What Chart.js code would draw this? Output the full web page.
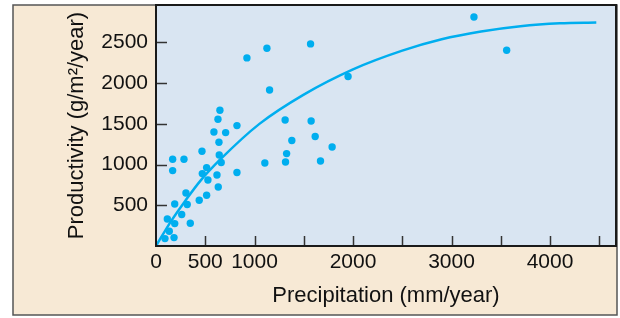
<!DOCTYPE html>
<html>
<head>
<meta charset="utf-8">
<script src="https://cdn.jsdelivr.net/npm/chart.js@4.4.0/dist/chart.umd.min.js"></script>
<style>
  body { margin: 0; background: #ffffff; }
  #chart { display: block; }
</style>
</head>
<body>
<canvas id="chart" width="620" height="318"></canvas>
<script>
// sites: precipitation (mm/year) vs productivity (g/m2/year)
const precip = [649, 629, 588, 707, 822, 639, 467, 169, 284, 169, 642, 662, 514, 470, 527,
    619, 822, 632, 304, 514, 439, 190, 317, 261, 115, 190, 348, 135, 91, 183,
    923, 1126, 1569, 1153, 1950, 1311, 1575, 1379, 1616, 1788, 1326, 1315, 1105, 1670,
    3228, 3560];
const productivity = [1667, 1557, 1400, 1393, 1479, 1274, 1163, 1065, 1065, 926, 1118, 1025, 963, 889, 811,
    872, 902, 725, 651, 623, 561, 516, 509, 386, 332, 275, 279, 181, 91, 103,
    2310, 2429, 2482, 1916, 2081, 1548, 1536, 1295, 1344, 1216, 1135, 1032, 1020, 1044,
    2813, 2404];

// fitted curve
const curveX = [0, 150, 300, 450, 650, 1050, 1500, 2000, 2500, 2900, 3300, 3700, 4100, 4470];
const curveY = [0, 300, 560, 800, 1060, 1500, 1860, 2170, 2400, 2540, 2635, 2700, 2735, 2745];

const xTicks = [0, 500, 1000, 1500, 2000, 2500, 3000, 3500, 4000, 4500];
const yTicks = [0, 500, 1000, 1500, 2000, 2500];
const xTickLabels = ['0', '500', '1000', '', '2000', '', '3000', '', '4000', ''];
const yTickLabels = ['', '500', '1000', '1500', '2000', '2500'];

const blue = '#00aeef';
const fontFamily = '"Liberation Sans", Arial, Helvetica, sans-serif';

const framePlugin = {
    id: 'frame',
    beforeDraw(chart) {
        const ctx = chart.ctx;
        const a = chart.chartArea;
        ctx.save();
        ctx.fillStyle = '#f7e9d5';
        ctx.fillRect(13, 5, 604, 310);
        ctx.fillStyle = '#d9e5f2';
        ctx.fillRect(a.left, a.top, a.right - a.left, a.bottom - a.top);
        ctx.restore();
    },
    afterDraw(chart) {
        const ctx = chart.ctx;
        const a = chart.chartArea;
        const xs = chart.scales.x;
        const ys = chart.scales.y;
        ctx.save();
        ctx.strokeStyle = '#333';
        ctx.lineWidth = 1.5;
        // inward tick marks
        xs.ticks.forEach(t => {
            if (t.value <= 0) return;
            const px = Math.round(xs.getPixelForValue(t.value)) + 0.5;
            ctx.beginPath();
            ctx.moveTo(px, a.bottom);
            ctx.lineTo(px, a.bottom - 10);
            ctx.stroke();
        });
        ys.ticks.forEach(t => {
            if (t.value <= 0) return;
            const py = Math.round(ys.getPixelForValue(t.value)) + 0.5;
            ctx.beginPath();
            ctx.moveTo(a.left, py);
            ctx.lineTo(a.left + 11, py);
            ctx.stroke();
        });
        // outer frame
        ctx.strokeStyle = '#555';
        ctx.lineWidth = 1.5;
        ctx.strokeRect(13, 5, 604, 310);
        // plot border
        ctx.strokeStyle = '#1a1a1a';
        ctx.lineWidth = 2;
        ctx.strokeRect(a.left, a.top, a.right - a.left, a.bottom - a.top);
        ctx.restore();
    }
};

new Chart(document.getElementById('chart'), {
    type: 'scatter',
    data: {
        datasets: [
            {
                type: 'line',
                data: curveX.map((x, i) => ({ x: x, y: curveY[i] })),
                borderColor: blue,
                borderWidth: 2.5,
                pointRadius: 0,
                cubicInterpolationMode: 'monotone',
                fill: false
            },
            {
                data: precip.map((x, i) => ({ x: x, y: productivity[i] })),
                backgroundColor: blue,
                borderWidth: 0,
                pointRadius: 3.7
            }
        ]
    },
    options: {
        responsive: false,
        animation: false,
        layout: {
            padding: { left: 13, right: 4, top: 5, bottom: 3 }
        },
        plugins: {
            legend: { display: false },
            tooltip: { enabled: false }
        },
        scales: {
            x: {
                type: 'linear',
                min: 0,
                max: 4670,
                afterBuildTicks(scale) { scale.ticks = xTicks.map(v => ({ value: v })); },
                afterFit(scale) {
                    scale.height = 69;
                    scale.paddingLeft = 0;
                    scale.paddingRight = 0;
                },
                grid: { display: false, drawTicks: false },
                border: { display: false },
                ticks: {
                    autoSkip: false,
                    maxRotation: 0,
                    padding: 4,
                    color: '#111',
                    font: { family: fontFamily, size: 21 },
                    callback: (v, i) => xTickLabels[i]
                },
                title: {
                    display: true,
                    text: 'Precipitation (mm/year)',
                    color: '#111',
                    font: { family: fontFamily, size: 22 },
                    padding: { top: 0, bottom: 6 }
                }
            },
            y: {
                type: 'linear',
                min: 0,
                max: 2960,
                afterBuildTicks(scale) { scale.ticks = yTicks.map(v => ({ value: v })); },
                afterFit(scale) {
                    scale.width = 143;
                    scale.paddingTop = 0;
                    scale.paddingBottom = 0;
                },
                grid: { display: false, drawTicks: false },
                border: { display: false },
                ticks: {
                    autoSkip: false,
                    padding: 8,
                    color: '#111',
                    font: { family: fontFamily, size: 21 },
                    callback: (v, i) => yTickLabels[i]
                },
                title: {
                    display: true,
                    text: 'Productivity (g/m²/year)',
                    color: '#111',
                    font: { family: fontFamily, size: 22 },
                    padding: { top: 51, bottom: 0 }
                }
            }
        }
    },
    plugins: [framePlugin]
});
</script>
</body>
</html>
